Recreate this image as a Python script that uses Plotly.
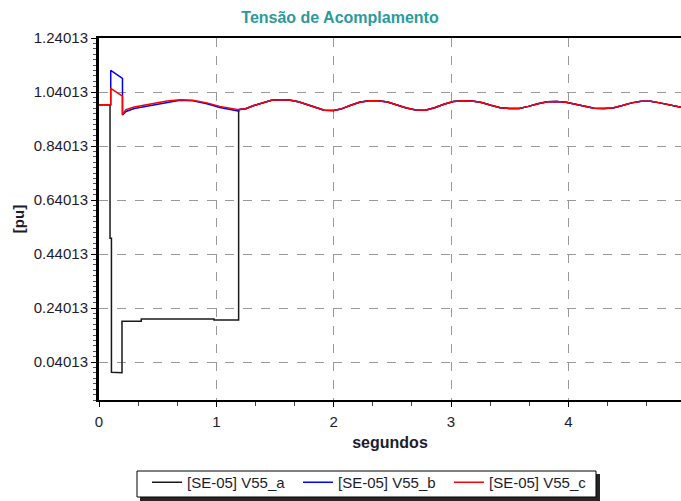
import plotly.graph_objects as go

# Pre-fault steady state (shared by the three phases)
t_pre = [0.0, 0.10]
v_pre = [0.993, 0.993]

# Phase a: deep sag during the fault, partial recovery until reclosing
t_a = [0.094, 0.094, 0.106, 0.106, 0.196, 0.196, 0.36, 0.36, 0.98, 0.98, 1.19]
v_a = [0.993, 0.499, 0.499, 0.003, 0.001, 0.192, 0.192, 0.200, 0.200, 0.196, 0.196]

# Phase b: overvoltage during the fault, then recovery
t_b = [0.10, 0.20, 0.20, 0.23, 0.30, 0.43, 0.58, 0.69, 0.80, 0.92, 1.03, 1.19]
v_b = [1.120, 1.091, 0.955, 0.968, 0.979, 0.990, 1.003, 1.010, 1.008, 0.997, 0.983, 0.970]

# Phase c: smaller swell during the fault, then recovery
t_c = [0.10, 0.15, 0.20, 0.20, 0.23, 0.30, 0.43, 0.58, 0.69, 0.80, 0.92, 1.03, 1.19]
v_c = [1.054, 1.040, 1.025, 0.957, 0.975, 0.985, 0.995, 1.007, 1.012, 1.010, 1.000, 0.987, 0.975]

# Common oscillation after reclosing (all phases coincide)
t_post = [1.19, 1.25, 1.32, 1.40, 1.47, 1.55, 1.62, 1.70, 1.78, 1.86, 1.92, 2.00,
          2.06, 2.14, 2.22, 2.30, 2.38, 2.46, 2.54, 2.62, 2.70, 2.78, 2.86, 2.94,
          3.02, 3.10, 3.18, 3.26, 3.34, 3.42, 3.50, 3.58, 3.66, 3.74, 3.82, 3.90,
          3.98, 4.06, 4.14, 4.22, 4.30, 4.38, 4.46, 4.54, 4.62, 4.70, 4.78, 4.86, 4.96]
v_post = [0.975, 0.978, 0.990, 1.002, 1.010, 1.012, 1.011, 1.004, 0.993, 0.980, 0.973, 0.972,
          0.977, 0.990, 1.002, 1.008, 1.008, 1.003, 0.993, 0.981, 0.974, 0.973, 0.982, 0.995,
          1.005, 1.008, 1.007, 1.001, 0.991, 0.982, 0.979, 0.979, 0.987, 0.997, 1.004, 1.005,
          1.002, 0.995, 0.986, 0.980, 0.979, 0.981, 0.990, 1.000, 1.006, 1.006, 1.000, 0.992, 0.984]

y_ticks = [0.04013, 0.24013, 0.44013, 0.64013, 0.84013, 1.04013, 1.24013]
x_ticks = [0, 1, 2, 3, 4]

series = [
    ("[SE-05] V55_a", "#1a1a1a", t_pre + t_a + t_post, v_pre + v_a + v_post),
    ("[SE-05] V55_b", "#0000ff", t_pre + t_b + t_post, v_pre + v_b + v_post),
    ("[SE-05] V55_c", "#ff0000", t_pre + t_c + t_post, v_pre + v_c + v_post),
]

fig = go.Figure()
for name, color, t, v in series:
    fig.add_trace(go.Scatter(x=t, y=v, mode="lines", name=name,
                             line=dict(color=color, width=1.5)))

text_color = "#1c1c2e"
font_family = "Liberation Sans, Arial, sans-serif"

# plot area spans x 99..681 px and y 38..400 px
PX0, PW, PY1, PH = 99, 582, 400, 362


def px_x(x):
    return (x - PX0) / PW


def px_y(y):
    return (PY1 - y) / PH


# legend frame with its drop shadow
fig.add_shape(type="rect", xref="paper", yref="paper",
              x0=px_x(140), x1=px_x(600), y0=px_y(501), y1=px_y(474),
              fillcolor="rgba(0,0,0,0.85)", line=dict(width=0), layer="above")
fig.add_shape(type="rect", xref="paper", yref="paper",
              x0=px_x(137), x1=px_x(596), y0=px_y(497), y1=px_y(471),
              fillcolor="white", line=dict(color="black", width=1), layer="above")

fig.update_layout(
    width=681, height=501,
    margin=dict(l=99, r=0, t=38, b=101, autoexpand=False),
    paper_bgcolor="white", plot_bgcolor="white",
    font=dict(family=font_family, size=15, color=text_color),
    title=dict(text="<b>Tensão de Acomplamento</b>", x=340 / 681, xanchor="center",
               y=1 - 17 / 501, yanchor="middle",
               font=dict(size=16, color="#2a9a9c")),
    showlegend=True,
    legend=dict(orientation="h", x=px_x(147), xanchor="left",
                y=px_y(466), yanchor="top",
                bgcolor="rgba(0,0,0,0)", borderwidth=0,
                font=dict(size=15, color=text_color),
                entrywidth=106, entrywidthmode="pixels",
                itemwidth=30, tracegroupgap=0),
    xaxis=dict(range=[0, 4.96], tickvals=x_ticks, ticktext=[str(v) for v in x_ticks],
               showline=True, linecolor="black", linewidth=2, mirror=True,
               ticks="outside", ticklen=5, tickcolor="black", tickwidth=1,
               ticklabelstandoff=2,
               minor=dict(dtick=1 / 3, tick0=0, ticks="outside", ticklen=4,
                          tickcolor="#444", showgrid=False),
               showgrid=True, gridcolor="#9a9a9a", griddash="dash", gridwidth=1,
               zeroline=False,
               title=dict(text="<b>segundos</b>", font=dict(size=16), standoff=8)),
    yaxis=dict(range=[-0.09987, 1.24013], tickvals=y_ticks,
               ticktext=[f"{v:.5f}" for v in y_ticks],
               showline=True, linecolor="black", linewidth=3,
               ticks="outside", ticklen=5, tickcolor="black", tickwidth=1,
               minor=dict(dtick=0.02, tick0=0.04013, ticks="outside", ticklen=3,
                          tickcolor="#555", showgrid=False),
               showgrid=True, gridcolor="#9a9a9a", griddash="dash", gridwidth=1,
               zeroline=False,
               title=dict(text="<b>[pu]</b>", font=dict(size=15), standoff=6)),
)

fig.write_html("out.html")
